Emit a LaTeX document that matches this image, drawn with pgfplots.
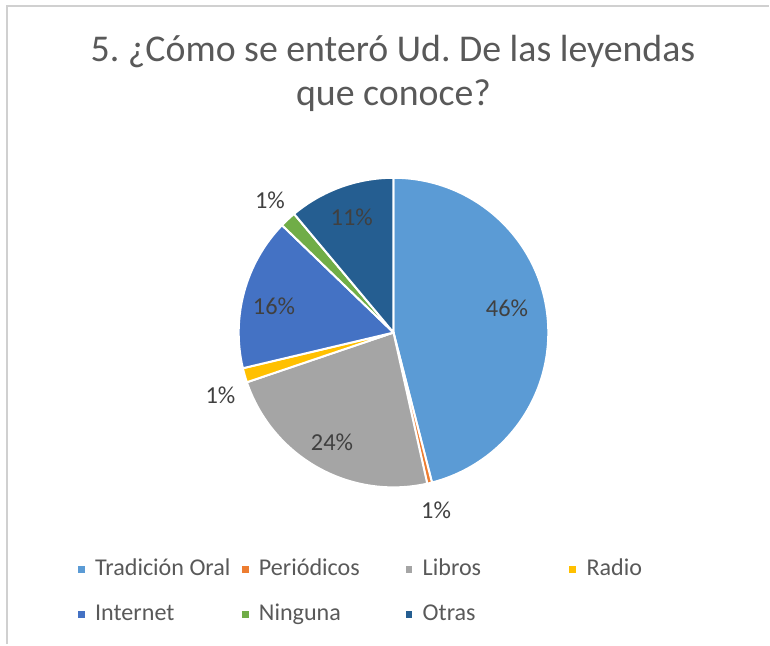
\documentclass[border=0pt]{standalone}
\usepackage{pgfplots}
\pgfplotsset{compat=1.18}
\usepackage{pgfplotstable}
\usepackage{fontspec}
\setmainfont{Carlito}
\frenchspacing

\definecolor{c0}{HTML}{5B9BD5}
\definecolor{c1}{HTML}{ED7D31}
\definecolor{c2}{HTML}{A5A5A5}
\definecolor{c3}{HTML}{FFC000}
\definecolor{c4}{HTML}{4472C4}
\definecolor{c5}{HTML}{70AD47}
\definecolor{c6}{HTML}{255E91}
\definecolor{titlegray}{HTML}{595959}
\definecolor{labelgray}{HTML}{404040}
\definecolor{framegray}{HTML}{D0D0D0}

% share of each answer (slice sizes), printed percentage, label placement
\pgfplotstableread[col sep=comma]{
name,value,pct,lrf,dang
Tradición Oral,46.0,46,0.75,5
Periódicos,0.5,1,1.18,0
Libros,23.3,24,0.81,0
Radio,1.5,1,1.19,4
Internet,15.9,16,0.79,3
Ninguna,1.7,1,1.17,0
Otras,11.1,11,0.79,0
}\piedata

\def\pieR{116.25}
\def\cum{0}
\pgfplotsforeachungrouped \i in {0,...,6}{%
  \pgfplotstablegetelem{\i}{value}\of\piedata
  \let\myv\pgfplotsretval
  \pgfplotstablegetelem{\i}{lrf}\of\piedata
  \let\mylrf\pgfplotsretval
  \pgfplotstablegetelem{\i}{dang}\of\piedata
  \let\mydang\pgfplotsretval
  \pgfmathsetmacro{\pSA}{90-3.6*\cum}%
  \pgfmathsetmacro{\newcum}{\cum+\myv}%
  \pgfmathsetmacro{\pEA}{90-3.6*\newcum}%
  \pgfmathsetmacro{\pMA}{(\pSA+\pEA)/2+\mydang}%
  \pgfmathsetmacro{\pLR}{\mylrf*\pieR}%
  \expandafter\xdef\csname sa\i\endcsname{\pSA}%
  \expandafter\xdef\csname ea\i\endcsname{\pEA}%
  \expandafter\xdef\csname ma\i\endcsname{\pMA}%
  \expandafter\xdef\csname lr\i\endcsname{\pLR}%
  \pgfplotstablegetelem{\i}{pct}\of\piedata
  \expandafter\xdef\csname pct\i\endcsname{\pgfplotsretval}%
  \pgfplotstablegetelem{\i}{name}\of\piedata
  \expandafter\xdef\csname nm\i\endcsname{\pgfplotsretval}%
  \pgfmathsetmacro{\lgx}{81.5+164*mod(\i,4)}%
  \pgfmathsetmacro{\lgy}{576+45*floor(\i/4)}%
  \expandafter\xdef\csname lgx\i\endcsname{\lgx}%
  \expandafter\xdef\csname lgy\i\endcsname{\lgy}%
  \xdef\cum{\newcum}%
}

\begin{document}
\begin{tikzpicture}
\begin{axis}[
  hide axis, scale only axis,
  width=577.5pt, height=483.75pt,
  xmin=0, xmax=770, ymin=0, ymax=645,
  y dir=reverse, clip=false]
  \path (axis cs:0,0) (axis cs:770,645);
  \draw[framegray, line width=1.5pt] (axis cs:7.5,645) -- (axis cs:7.5,6) -- (axis cs:770,6);
  \node[titlegray, font=\fontsize{28.4}{32}\selectfont, anchor=base, inner sep=0pt]
    at (axis cs:393.5,62) {5. ¿Cómo se enteró Ud. De las leyendas};
  \node[titlegray, font=\fontsize{28.4}{32}\selectfont, anchor=base, inner sep=0pt]
    at (axis cs:394,106) {que conoce?};
  \pgfplotsinvokeforeach{0,...,6}{%
    \filldraw[fill=c#1, draw=white, line width=1.5pt, line join=round]
      (axis cs:394,333) -- ++({\csname sa#1\endcsname}:\pieR pt)
      arc[start angle=\csname sa#1\endcsname, end angle=\csname ea#1\endcsname, radius=\pieR pt] -- cycle;
  }
  \pgfplotsinvokeforeach{0,...,6}{%
    \path (axis cs:394,333) ++({\csname ma#1\endcsname}:{\csname lr#1\endcsname pt})
      node[labelgray, font=\fontsize{18.3}{21}\selectfont, inner sep=0pt] {\csname pct#1\endcsname\%};
    \fill[c#1] (axis cs:{\csname lgx#1\endcsname},{\csname lgy#1\endcsname-5.5}) ++(-2.6pt,-2.6pt) rectangle ++(5.2pt,5.2pt);
    \node[titlegray, font=\fontsize{18.1}{21}\selectfont, anchor=base west, inner sep=0pt]
      at (axis cs:{\csname lgx#1\endcsname+13.5},{\csname lgy#1\endcsname}) {\csname nm#1\endcsname};
  }
\end{axis}
\end{tikzpicture}
\end{document}
